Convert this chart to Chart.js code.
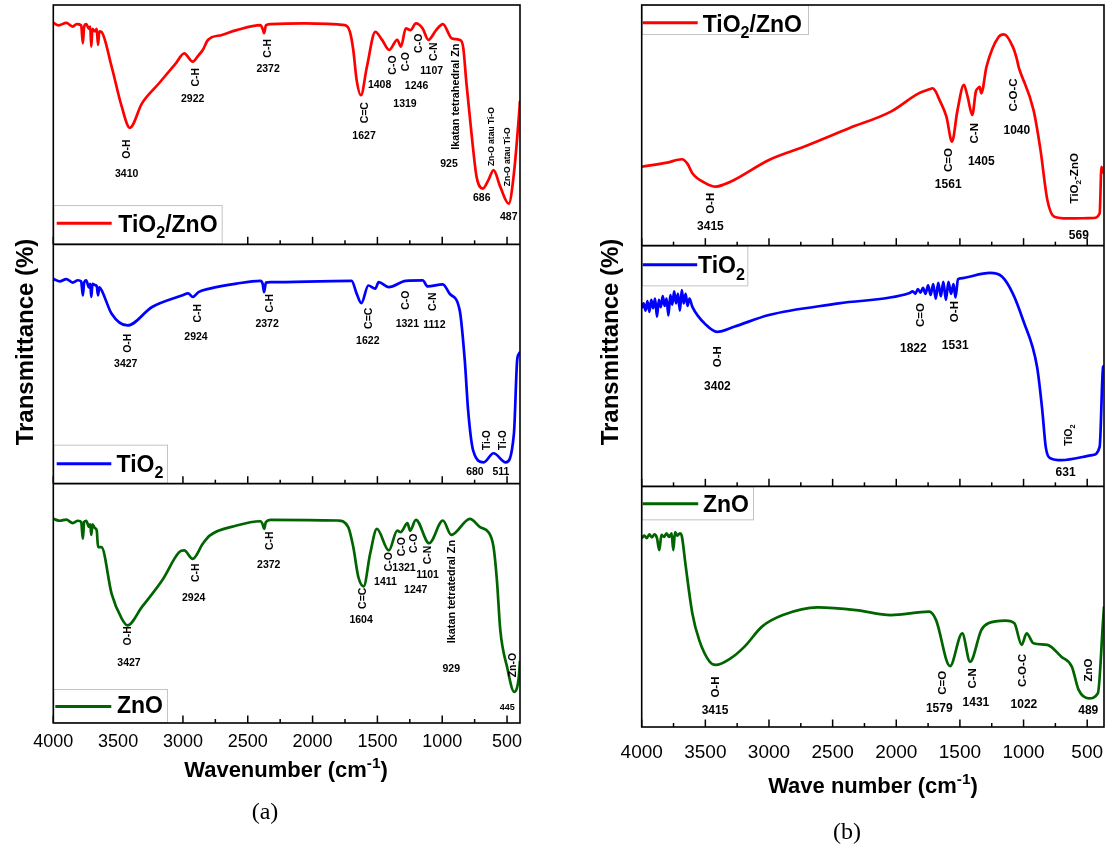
<!DOCTYPE html>
<html lang="en">
<head>
<meta charset="UTF-8">
<script src="https://cdn.jsdelivr.net/npm/chart.js"></script>
<title>FTIR TiO2 / ZnO</title>
<style>
  body { margin: 0; background: #fff; width: 1106px; height: 856px; overflow: hidden; position: relative; }
  canvas { position: absolute; top: 0; }
</style>
</head>
<body>
<canvas id="chartA" width="560" height="856" style="left:0"></canvas>
<canvas id="chartB" width="570" height="856" style="left:560px"></canvas>
<script>
const FONT = "'Liberation Sans', Arial, Helvetica, sans-serif";

// ---- panel (a) ----
const aTzWave = [4000, 3960, 3900, 3850, 3820, 3785, 3772, 3762, 3746, 3725, 3715, 3707, 3698, 3680, 3665, 3655, 3645, 3629, 3550, 3472, 3410, 3316, 3186, 3055, 2990, 2925, 2880, 2847, 2807, 2700, 2586, 2403, 2385, 2374, 2360, 2325, 2064, 1751, 1712, 1686, 1660, 1627, 1581, 1516, 1464, 1409, 1347, 1318, 1281, 1245, 1203, 1151, 1107, 1047, 995, 925, 865, 839, 813, 774, 735, 686, 644, 604, 552, 487, 447, 406, 400];
const aTzTrans = [92.6, 91.5, 92.5, 91, 92, 91.5, 84, 91, 92, 90, 91, 82.6, 90, 89, 90, 83.3, 89, 88.8, 74.2, 57.5, 48.7, 58.9, 67.2, 75.6, 79.8, 76.3, 79, 81.2, 85.4, 87.5, 89.5, 91.6, 90, 88.2, 91.5, 92, 92.3, 91.6, 88.8, 81.2, 68.6, 62.3, 74.2, 88.8, 85.4, 81.2, 85.4, 82.6, 90.2, 89.5, 92.3, 90.2, 85.4, 89.5, 92, 86, 85.4, 82.6, 67.2, 46.3, 28.2, 23.3, 26.8, 31, 24, 17, 29.6, 55.4, 60];

const aTiWave = [4000, 3950, 3900, 3850, 3810, 3785, 3772, 3762, 3746, 3725, 3715, 3707, 3698, 3680, 3665, 3655, 3645, 3629, 3550, 3428, 3238, 3003, 2960, 2924, 2880, 2794, 2586, 2403, 2385, 2374, 2360, 2325, 1699, 1660, 1624, 1570, 1516, 1490, 1412, 1281, 1151, 1112, 995, 943, 865, 826, 800, 761, 680, 604, 510, 447, 422, 408, 400];
const aTiTrans = [85.6, 84.5, 85.5, 84, 85, 84.5, 78.7, 84, 85, 82, 83.5, 78, 83.5, 83, 82.5, 78.7, 82, 81, 71, 66.1, 73.8, 78.7, 79.5, 78, 80, 81.5, 83.6, 84.7, 83.5, 80, 84, 84.2, 84.7, 79.4, 75.4, 82.8, 81.5, 84.2, 82.1, 84.7, 84.9, 82.4, 83.3, 79.4, 72.4, 51.5, 30.5, 13.8, 8.9, 12.7, 8.9, 20.8, 51.5, 54.3, 55];

const aZnWave = [4000, 3950, 3900, 3850, 3810, 3785, 3772, 3762, 3746, 3725, 3715, 3707, 3698, 3680, 3665, 3655, 3629, 3550, 3472, 3428, 3316, 3160, 3029, 2990, 2925, 2847, 2794, 2586, 2403, 2385, 2374, 2360, 2325, 1804, 1725, 1686, 1647, 1606, 1556, 1504, 1412, 1347, 1321, 1268, 1248, 1203, 1101, 995, 930, 786, 708, 643, 604, 578, 552, 500, 445, 409, 400];
const aZnTrans = [85.3, 84.5, 85, 83.5, 84.5, 84, 77, 84, 84.5, 82, 83, 78.6, 83, 81.5, 80.5, 73.5, 73.5, 54, 43.6, 40.8, 48.5, 59.6, 71.4, 72.1, 68.6, 74.9, 78.3, 82.5, 84.3, 83, 81.1, 84, 84.9, 84.6, 81.8, 73.5, 61, 57.1, 70.7, 81.1, 72.1, 80.4, 79.7, 83.5, 80.4, 84.9, 75.1, 84.6, 78.6, 85.3, 81.8, 79.7, 73.5, 59.6, 38.8, 23.5, 13, 19.3, 26];

// ---- panel (b) ----
const bTzWave = [4000, 3800, 3684, 3640, 3602, 3500, 3419, 3350, 3274, 3000, 2726, 2371, 2043, 1824, 1740, 1715, 1690, 1660, 1606, 1562, 1520, 1469, 1440, 1403, 1375, 1359, 1345, 1332, 1291, 1195, 1154, 1085, 1050, 1040, 1031, 922, 867, 813, 758, 650, 539, 450, 402, 388, 368];
const bTzTrans = [32.8, 34.5, 35.9, 34, 30.1, 26, 24.5, 25.5, 27.3, 35.6, 41.1, 48.8, 55.7, 63.3, 65, 65.4, 64, 60.5, 53.6, 43.2, 56, 66.8, 62, 54.3, 64, 65.4, 66, 63.3, 74.4, 86.8, 87.8, 82.7, 77, 74.5, 73, 56.4, 39.8, 19, 12, 11.3, 11.4, 11.5, 13.5, 32.8, 30];

const bTiWave = [4000, 3985, 3970, 3955, 3940, 3925, 3910, 3895, 3880, 3865, 3850, 3835, 3820, 3805, 3790, 3775, 3760, 3745, 3730, 3715, 3700, 3685, 3670, 3655, 3640, 3625, 3602, 3493, 3408, 3274, 3000, 2453, 1900, 1870, 1850, 1830, 1810, 1790, 1770, 1750, 1730, 1710, 1690, 1670, 1650, 1630, 1610, 1590, 1570, 1550, 1535, 1515, 1496, 1264, 1168, 1085, 1004, 894, 853, 826, 785, 703, 457, 402, 375, 368];
const bTiTrans = [74, 76, 73, 77, 72.5, 77.5, 74, 78, 70.5, 77.5, 74.5, 79, 75, 78, 71, 79.5, 75.5, 81, 76, 80, 73, 81.5, 76, 80, 75, 78, 74.6, 67, 64.2, 66.3, 71.2, 76, 80.2, 81, 80, 82, 80.5, 82.5, 80, 83.5, 79.5, 84, 78, 84.5, 79, 85, 77.5, 85, 80, 84, 78.5, 86, 86.4, 88.7, 87.1, 80.2, 69.1, 49.7, 31.7, 16.5, 11.6, 10.9, 13, 16.5, 49.7, 50];

const bZnWave = [4000, 3980, 3960, 3940, 3920, 3900, 3880, 3862, 3845, 3825, 3805, 3785, 3765, 3752, 3738, 3720, 3700, 3684, 3657, 3602, 3548, 3466, 3419, 3302, 3192, 3055, 2891, 2617, 2317, 2043, 1742, 1688, 1578, 1482, 1420, 1332, 1277, 1141, 1072, 1015, 976, 922, 813, 703, 621, 567, 487, 416, 375, 368];
const bZnTrans = [78.4, 79.5, 78.5, 80, 78.8, 80, 78.5, 73.5, 79.8, 79, 80.5, 79, 80.5, 73.5, 81, 79.5, 80.5, 79.1, 68, 47.2, 36.1, 27.1, 25.8, 28.5, 33.4, 41.7, 46.5, 49.7, 48.6, 46.5, 47.9, 44.5, 25.3, 38.9, 27.1, 40.3, 43.1, 44.2, 43.1, 34.1, 38.9, 34.8, 34.1, 29.2, 25.1, 15.4, 11.9, 14, 44.5, 50];

const tickWaves = [4000, 3750, 3500, 3250, 3000, 2750, 2500, 2250, 2000, 1750, 1500, 1250, 1000, 750, 500];
const tickLabels = [4000, 3500, 3000, 2500, 2000, 1500, 1000, 500];
const seriesNames = ['TiO_2/ZnO', 'TiO_2', 'ZnO'];
const seriesColors = ['#ff0000', '#0000ff', '#006400'];

// peak labels: [wavenumber, level inside its strip, text, vertical, size]
const aTzMarks = [
  [3434, 39.8, 'O-H', 1], [3434, 29.7, '3410', 0],
  [2904, 69.8, 'C-H', 1], [2925, 61, '2922', 0],
  [2351, 81.9, 'C-H', 1], [2343, 73.6, '2372', 0],
  [1600, 55, 'C=C', 1], [1603, 45.7, '1627', 0],
  [1483, 66.9, '1408', 0], [1387, 74.9, 'C-O', 1],
  [1282, 76.3, 'C-O', 1], [1287, 58.9, '1319', 0],
  [1183, 84, 'C-O', 1], [1198, 66.3, '1246', 0],
  [1073, 80.5, 'C-N', 1], [1081, 72.8, '1107', 0],
  [904, 61.7, 'Ikatan tetrahedral Zn', 1, 10.8], [948, 33.9, '925', 0],
  [625, 45, 'Zn-O atau Ti-O', 1, 8.5], [695, 19.6, '686', 0],
  [499, 36.6, 'Zn-O atau Ti-O', 1, 8.5], [487, 11.8, '487', 0]
];
const aTiMarks = [
  [3426, 58.7, 'O-H', 1], [3441, 50.3, '3427', 0],
  [2886, 71.2, 'C-H', 1], [2899, 61.7, '2924', 0],
  [2338, 75.4, 'C-H', 1], [2351, 67, '2372', 0],
  [1574, 69.1, 'C=C', 1], [1574, 60, '1622', 0],
  [1282, 76.7, 'C-O', 1], [1269, 67, '1321', 0],
  [1079, 76, 'C-N', 1], [1060, 66.7, '1112', 0],
  [657, 18.2, 'Ti-O', 1, 10], [748, 5.4, '680', 0],
  [539, 18.2, 'Ti-O', 1, 10], [547, 5.4, '511', 0]
];
const aZnMarks = [
  [3426, 36.4, 'O-H', 1], [3416, 25.2, '3427', 0],
  [2907, 62.8, 'C-H', 1], [2917, 52.5, '2924', 0],
  [2338, 76.2, 'C-H', 1], [2338, 66.4, '2372', 0],
  [1616, 52.1, 'C=C', 1], [1626, 43.3, '1604', 0],
  [1413, 67.4, 'C-O', 1], [1438, 59.3, '1411', 0],
  [1313, 73.7, 'C-O', 1], [1295, 65.1, '1321', 0],
  [1225, 75.1, 'C-O', 1], [1204, 56, '1247', 0],
  [1113, 70.2, 'C-N', 1], [1113, 62.1, '1101', 0],
  [935, 54.9, 'Ikatan tetratedral Zn', 1, 10.8], [930, 22.9, '929', 0],
  [461, 24.2, 'Zn-O', 1], [498, 6.8, '445', 0, 9]
];
const bTzMarks = [
  [3466, 17.6, 'O-H', 1], [3460, 8.2, '3415', 0],
  [1592, 35.6, 'C=O', 1], [1592, 25.9, '1561', 0],
  [1393, 46.7, 'C-N', 1], [1332, 35.3, '1405', 0],
  [1086, 62.6, 'C-O-C', 1], [1053, 48.1, '1040', 0],
  [607, 28, 'TiO_2-ZnO', 1], [566, 4.4, '569', 0]
];
const bTiMarks = [
  [3411, 53.9, 'O-H', 1], [3405, 41.7, '3402', 0],
  [1811, 71.2, 'C=O', 1], [1866, 57.8, '1822', 0],
  [1551, 72.6, 'O-H', 1], [1537, 58.7, '1531', 0],
  [648, 21.3, 'TiO_2', 1, 10.5], [670, 6.1, '631', 0]
];
const bZnMarks = [
  [3424, 16.6, 'O-H', 1], [3424, 7.1, '3415', 0],
  [1643, 18.4, 'C=O', 1], [1662, 8.2, '1579', 0],
  [1408, 20.2, 'C-N', 1], [1374, 10.5, '1431', 0],
  [1017, 23.5, 'C-O-C', 1], [997, 9.8, '1022', 0],
  [492, 23.7, 'ZnO', 1], [492, 7.1, '489', 0]
];

function pts(xs, ys) {
  return xs.map((x, i) => ({ x: x, y: ys[i] }));
}

// 'TiO_2' -> [['TiO',''],['2','sub']]
function parseSub(s) {
  const out = [];
  let buf = '';
  for (let i = 0; i < s.length; i++) {
    if (s[i] === '_') {
      if (buf) out.push([buf, '']);
      buf = '';
      out.push([s[i + 1], 'sub']);
      i++;
    } else {
      buf += s[i];
    }
  }
  if (buf) out.push([buf, '']);
  return out;
}

function drawRich(ctx, parts, x, y, size, weight, align) {
  const fs = p => p[1] ? size * 0.7 : size;
  const widths = parts.map(p => {
    ctx.font = weight + ' ' + fs(p) + 'px ' + FONT;
    return ctx.measureText(p[0]).width;
  });
  const total = widths.reduce((s, v) => s + v, 0);
  let cx = align === 'center' ? x - total / 2 : x;
  ctx.textAlign = 'left';
  ctx.textBaseline = 'alphabetic';
  parts.forEach((p, i) => {
    ctx.font = weight + ' ' + fs(p) + 'px ' + FONT;
    const dy = p[1] === 'sub' ? size * 0.29 : (p[1] === 'sup' ? -size * 0.42 : 0);
    ctx.fillText(p[0], cx, y + dy);
    cx += widths[i];
  });
}

function makeDecor(cfg) {
  return {
    id: 'decor',
    afterDatasetsDraw(chart) {
      const ctx = chart.ctx;
      const a = chart.chartArea;
      const xs = chart.scales.x;
      const ids = ['y1', 'y2', 'y3'];
      const bottoms = ids.map(id => chart.scales[id].getPixelForValue(0));
      const tops = ids.map(id => chart.scales[id].getPixelForValue(100));
      ctx.save();

      // inward ticks at the foot of every strip
      ctx.strokeStyle = '#000';
      ctx.lineWidth = 1.5;
      bottoms.forEach(b => {
        tickWaves.forEach(w => {
          const px = xs.getPixelForValue(w);
          const len = tickLabels.includes(w) ? 7.5 : 4;
          ctx.beginPath();
          ctx.moveTo(px, b);
          ctx.lineTo(px, b - len);
          ctx.stroke();
        });
      });

      // peak labels
      ctx.fillStyle = '#000';
      cfg.marks.forEach((list, k) => {
        const ys = chart.scales[ids[k]];
        list.forEach(m => {
          const px = xs.getPixelForValue(m[0]);
          const py = ys.getPixelForValue(m[1]);
          const size = m[4] || (m[3] ? cfg.rotSize : cfg.numSize);
          if (m[3]) {
            ctx.save();
            ctx.translate(px, py);
            ctx.rotate(-Math.PI / 2);
            drawRich(ctx, parseSub(m[2]), 0, size * 0.36, size, 'bold', 'center');
            ctx.restore();
          } else {
            drawRich(ctx, [[m[2], '']], px, py + size * 0.36, size, 'bold', 'center');
          }
        });
      });

      // legend boxes
      cfg.legends.forEach((lg, k) => {
        const top = cfg.legendAtTop ? tops[k] : bottoms[k] - lg.h;
        ctx.fillStyle = '#fff';
        ctx.fillRect(a.left, top, lg.w, lg.h);
        ctx.strokeStyle = '#c4c4c4';
        ctx.lineWidth = 1;
        ctx.strokeRect(a.left + 0.5, top + 0.5, lg.w - 1, lg.h - 1);
        ctx.strokeStyle = seriesColors[k];
        ctx.lineWidth = 3;
        ctx.beginPath();
        ctx.moveTo(a.left + lg.x0, top + lg.ly);
        ctx.lineTo(a.left + lg.x1, top + lg.ly);
        ctx.stroke();
        ctx.fillStyle = '#000';
        drawRich(ctx, parseSub(seriesNames[k]), a.left + lg.tx, top + lg.ty, cfg.legendSize, 'bold', 'left');
      });

      // frame and strip dividers
      ctx.strokeStyle = '#000';
      ctx.lineWidth = 1.6;
      ctx.strokeRect(a.left, a.top, a.right - a.left, a.bottom - a.top);
      bottoms.slice(0, 2).forEach(b => {
        ctx.beginPath();
        ctx.moveTo(a.left, b);
        ctx.lineTo(a.right, b);
        ctx.stroke();
      });

      // axis titles and caption
      ctx.fillStyle = '#000';
      ctx.save();
      ctx.translate(cfg.yTitle[0], cfg.yTitle[1]);
      ctx.rotate(-Math.PI / 2);
      drawRich(ctx, [['Transmittance (%)', '']], 0, 24 * 0.36, 24, 'bold', 'center');
      ctx.restore();
      drawRich(ctx, cfg.xTitle, cfg.xTitlePos[0], cfg.xTitlePos[1] + 22 * 0.36, 22, 'bold', 'center');
      ctx.font = '24px "Liberation Serif", "Times New Roman", serif';
      ctx.textAlign = 'center';
      ctx.textBaseline = 'middle';
      ctx.fillText(cfg.caption, cfg.capPos[0], cfg.capPos[1]);
      ctx.restore();
    }
  };
}

function buildChart(canvasId, series, cfg) {
  const datasets = series.map((s, k) => ({
    label: seriesNames[k],
    data: pts(s[0], s[1]),
    yAxisID: 'y' + (k + 1),
    borderColor: seriesColors[k],
    borderWidth: 2.7,
    pointRadius: 0,
    fill: false,
    cubicInterpolationMode: 'monotone',
    borderJoinStyle: 'round'
  }));
  new Chart(document.getElementById(canvasId), {
    type: 'line',
    data: { datasets: datasets },
    options: {
      responsive: false,
      animation: false,
      events: [],
      layout: { padding: cfg.padding },
      scales: {
        x: {
          type: 'linear',
          reverse: true,
          min: cfg.xMin,
          max: 4000,
          afterBuildTicks: s => { s.ticks = tickWaves.map(v => ({ value: v })); },
          afterFit: s => { s.height = 50; },
          grid: { display: false, drawTicks: false },
          border: { display: false },
          ticks: {
            autoSkip: false,
            maxRotation: 0,
            color: '#000',
            padding: cfg.tickPad,
            font: { family: FONT, size: cfg.tickSize },
            callback: v => tickLabels.includes(v) ? String(v) : ''
          }
        },
        y1: { display: false, min: -200, max: 100 },
        y2: { display: false, min: -100, max: 200 },
        y3: { display: false, min: 0, max: 300 }
      },
      plugins: { legend: { display: false }, tooltip: { enabled: false } }
    },
    plugins: [makeDecor(cfg)]
  });
}

buildChart('chartA', [[aTzWave, aTzTrans], [aTiWave, aTiTrans], [aZnWave, aZnTrans]], {
  padding: { left: 53.3, right: 40, top: 5, bottom: 83 },
  xMin: 400,
  tickPad: 8,
  tickSize: 18,
  marks: [aTzMarks, aTiMarks, aZnMarks],
  rotSize: 10.5,
  numSize: 10.5,
  legendAtTop: false,
  legendSize: 23,
  legends: [
    { w: 169.4, h: 39.3, x0: 3.4, x1: 58.4, ly: 18.3, tx: 65, ty: 26.7 },
    { w: 114.7, h: 39, x0: 3.4, x1: 58, ly: 19, tx: 63.3, ty: 27 },
    { w: 114.7, h: 34, x0: 2, x1: 58, ly: 17.4, tx: 63.7, ty: 24 }
  ],
  yTitle: [24, 342],
  xTitle: [['Wavenumber (cm', ''], ['-1', 'sup'], [')', '']],
  xTitlePos: [286, 769],
  caption: '(a)',
  capPos: [265, 813]
});

buildChart('chartB', [[bTzWave, bTzTrans], [bTiWave, bTiTrans], [bZnWave, bZnTrans]], {
  padding: { left: 81.7, right: 26, top: 5, bottom: 79 },
  xMin: 368,
  tickPad: 14.5,
  tickSize: 19,
  marks: [bTzMarks, bTiMarks, bZnMarks],
  rotSize: 11.5,
  numSize: 12,
  legendAtTop: true,
  legendSize: 23,
  legends: [
    { w: 167.3, h: 30, x0: 1, x1: 56, ly: 17.7, tx: 61, ty: 26.7 },
    { w: 106.6, h: 40.7, x0: 1, x1: 55.5, ly: 19, tx: 56.3, ty: 27.4 },
    { w: 112.3, h: 34, x0: 1, x1: 56.5, ly: 17.3, tx: 61.3, ty: 25.7 }
  ],
  yTitle: [49, 342],
  xTitle: [['Wave number (cm', ''], ['-1', 'sup'], [')', '']],
  xTitlePos: [313, 785],
  caption: '(b)',
  capPos: [287, 833]
});
</script>
</body>
</html>
